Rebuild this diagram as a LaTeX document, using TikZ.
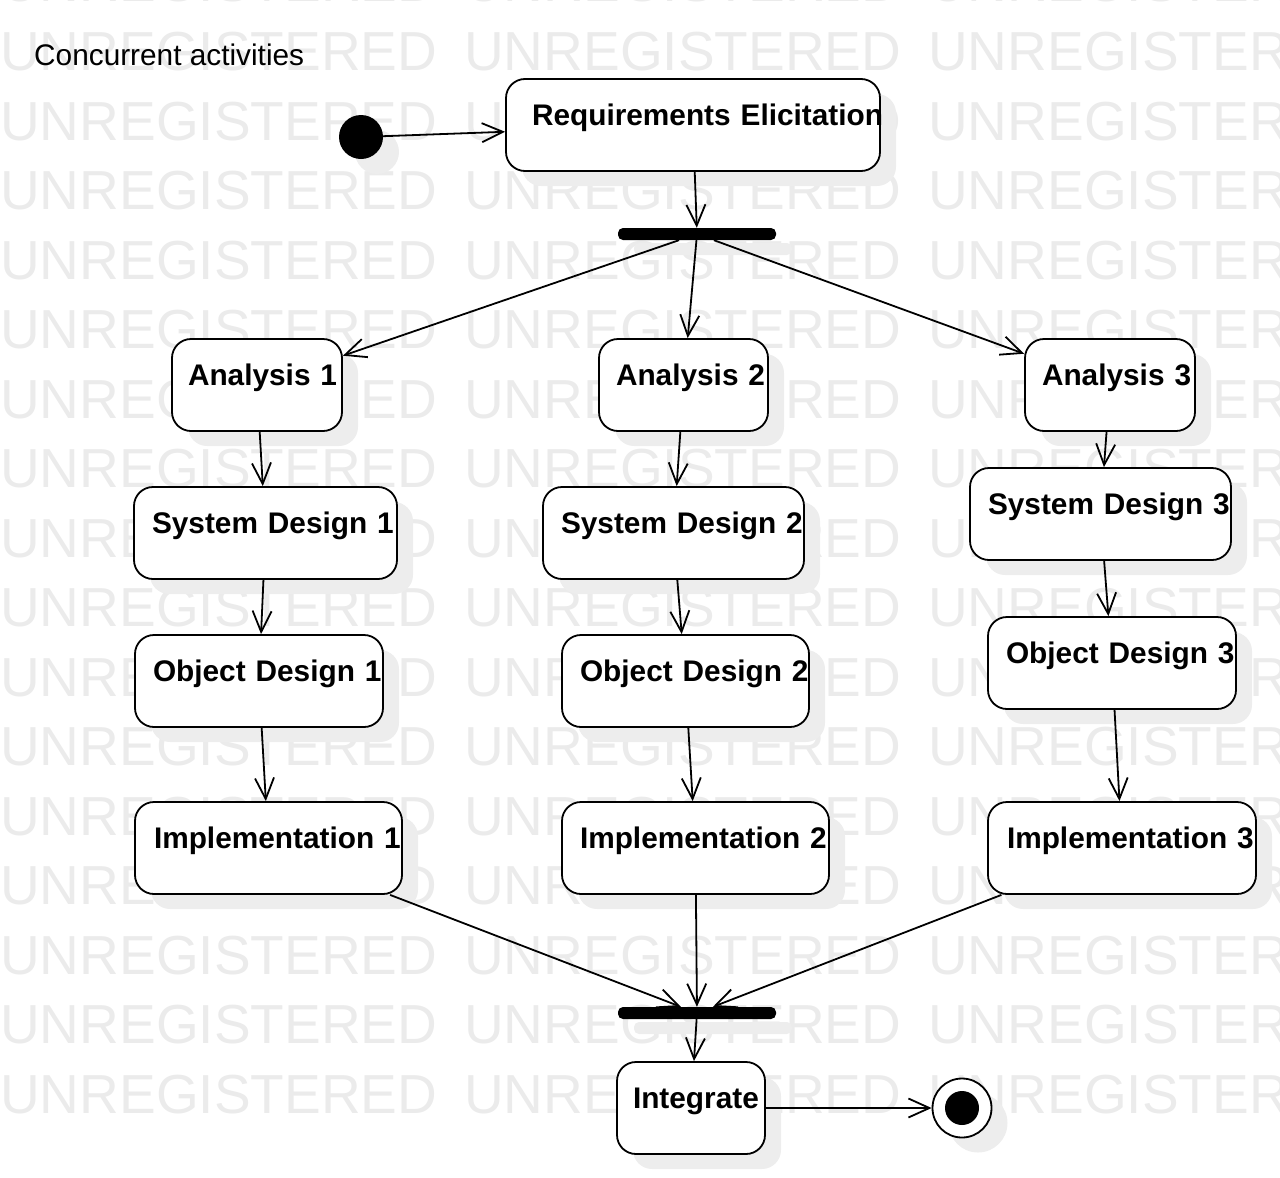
\documentclass[tikz,border=0pt]{standalone}
\usepackage{fontspec}
\setmainfont{Liberation Sans}
\usetikzlibrary{arrows.meta,shadows}
\begin{document}
\begin{tikzpicture}[x=1pt,y=-1pt,line join=round,
    wmark/.style={inner sep=0pt,anchor=base west,text=black!8,font=\fontsize{55}{60}\selectfont},
    shade/.style={drop shadow={shadow xshift=16pt,shadow yshift=-15pt,fill=black!7,opacity=1}},
    act/.style 2 args={draw,line width=1.8pt,fill=white,rounded corners=19pt,shade,
        minimum width=#1,text width=#1,minimum height=92pt,inner sep=0pt,align=left,
        text height=12pt,text depth=12pt,font=\fontsize{29.8}{34}\selectfont\bfseries,
        execute at begin node={\hspace*{#2}\hbox\bgroup},execute at end node={\egroup}},
    bar/.style={fill=black,rounded corners=5pt,minimum width=158pt,minimum height=12pt,inner sep=0pt,shade},
    flow/.style={line width=1.8pt,-{Straight Barb[length=21pt,width=19pt]}}]
    \clip (0,0) rectangle (1280,1178);
    % watermark
    \foreach \r in {-1,...,15}
        \foreach \c in {0,1,2}
            \node[wmark] (wm-\r-\c) at (464*\c,70.5+69.5*\r) {UNREGISTERED};
    \node[anchor=base west,inner sep=0pt,font=\fontsize{29.8}{34}\selectfont] (title) at (34,65) {Concurrent activities};
    % start and first activity
    \node[circle,fill=black,minimum size=44pt,inner sep=0pt,shade] (start) at (361,137) {};
    \node[act={374pt}{26pt}] (req) at (693,125) {Requirements Elicitation};
    \node[bar] (fork) at (697,234) {};
    % three parallel branches
    \node[act={170pt}{16pt}] (a1) at (257,385) {Analysis 1};
    \node[act={169pt}{17pt}] (a2) at (683.5,385) {Analysis 2};
    \node[act={170pt}{17pt}] (a3) at (1110,385) {Analysis 3};
    \node[act={263pt}{18pt}] (sd1) at (265.5,533) {System Design 1};
    \node[act={261pt}{18pt}] (sd2) at (673.5,533) {System Design 2};
    \node[act={261pt}{18pt}] (sd3) at (1100.5,514) {System Design 3};
    \node[act={248pt}{18pt}] (od1) at (259,681) {Object Design 1};
    \node[act={247pt}{18pt}] (od2) at (685.5,681) {Object Design 2};
    \node[act={248pt}{18pt}] (od3) at (1112,663) {Object Design 3};
    \node[act={267pt}{19pt}] (im1) at (268.5,848) {Implementation 1};
    \node[act={267pt}{18pt}] (im2) at (695.5,848) {Implementation 2};
    \node[act={268pt}{19pt}] (im3) at (1122,848) {Implementation 3};
    % join and end
    \node[bar] (join) at (697,1013) {};
    \node[act={148pt}{16pt}] (int) at (691,1108) {Integrate};
    \node[circle,draw,line width=1.8pt,fill=white,minimum size=59pt,inner sep=0pt,shade] (final) at (962,1108) {};
    \node[circle,fill=black,minimum size=34pt,inner sep=0pt] (finaldot) at (final) {};
    % transitions
    \draw[flow] (start) -- (req);
    \draw[flow] (req) -- (fork);
    \foreach \n in {a1,a2,a3}
        \draw[flow] (fork) -- (\n);
    \foreach \i in {1,2,3}{
        \draw[flow] (a\i) -- (sd\i);
        \draw[flow] (sd\i) -- (od\i);
        \draw[flow] (od\i) -- (im\i);
        \draw[flow] (im\i) -- (join);
    }
    \draw[flow] (join) -- (int);
    \draw[flow] (int) -- (final);
\end{tikzpicture}
\end{document}
